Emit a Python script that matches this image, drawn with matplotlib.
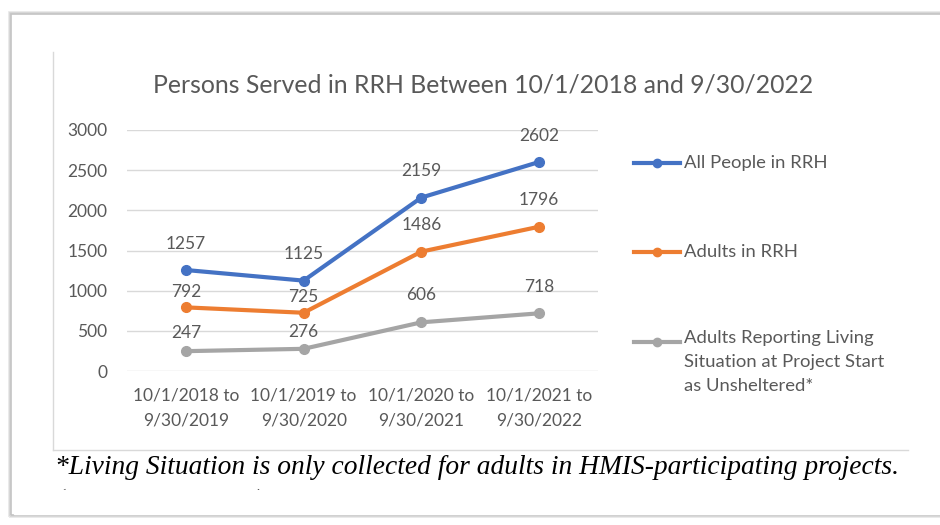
import matplotlib.pyplot as plt
from matplotlib.lines import Line2D
from matplotlib.patches import Rectangle

# --- Data ---
periods = ["10/1/2018 to\n9/30/2019", "10/1/2019 to\n9/30/2020",
           "10/1/2020 to\n9/30/2021", "10/1/2021 to\n9/30/2022"]
all_people = [1257, 1125, 2159, 2602]
adults = [792, 725, 1486, 1796]
unsheltered = [247, 276, 606, 718]
series_names = ["All People in RRH", "Adults in RRH",
                "Adults Reporting Living\nSituation at Project Start\nas Unsheltered*"]

title = "Persons Served in RRH Between 10/1/2018 and 9/30/2022"
footnote = "*Living Situation is only collected for adults in HMIS-participating projects."
footnote2 = "(Source: KYHMIS)"

# --- Style ---
colors = ["#4472C4", "#ED7D31", "#A5A5A5"]
txt_grey = "#595959"
font = "Lato"
W, H = 940, 525

def fx(px):
    return px / W

def fy(py):
    return 1 - py / H

fig = plt.figure(figsize=(9.4, 5.25), dpi=100)

# outer page frame with soft shadow
for i, c in enumerate(["#e6e6e6", "#d4d4d4", "#c4c4c4"]):
    fig.add_artist(Rectangle((fx(9 + i), fy(517 - i)), fx(960), fy(12 + i) - fy(517 - i),
                             transform=fig.transFigure, fill=False, ec=c, lw=1.2))

# inner chart border (left + bottom)
fig.add_artist(Line2D([fx(53), fx(53)], [fy(52), fy(450)], transform=fig.transFigure,
                      color="#d9d9d9", lw=1))
fig.add_artist(Line2D([fx(53), fx(908)], [fy(450), fy(450)], transform=fig.transFigure,
                      color="#d9d9d9", lw=1))

ax = fig.add_axes([fx(127), fy(371), fx(598) - fx(127), fy(130) - fy(371)])
x = list(range(len(periods)))

data = [all_people, adults, unsheltered]
# label offsets in points (some labels sit closer to their marker)
offsets = [[19, 19, 19, 19], [11, 11, 19, 19], [13, 12, 20, 19]]
for vals, col, offs in zip(data, colors, offsets):
    ax.plot(x, vals, color=col, lw=3, marker="o", ms=7, solid_capstyle="round")
    for xi, v, o in zip(x, vals, offs):
        ax.annotate(str(v), (xi, v), xytext=(0, o), textcoords="offset points",
                    ha="center", va="center", fontsize=12.5, color=txt_grey, family=font)

ax.set_xlim(-0.5, 3.5)
ax.set_ylim(0, 3000)
ax.set_yticks(range(0, 3001, 500))
ax.set_xticks(x)
ax.set_xticklabels(periods, fontsize=12.5, color=txt_grey, family=font, linespacing=1.65)
for lab in ax.get_yticklabels():
    lab.set_fontsize(12.5)
    lab.set_color(txt_grey)
    lab.set_family(font)
ax.tick_params(axis="both", length=0)
ax.tick_params(axis="y", pad=14)
ax.tick_params(axis="x", pad=12)
ax.grid(axis="y", color="#d9d9d9", lw=1)
ax.set_axisbelow(True)
for s in ax.spines.values():
    s.set_visible(False)

fig.text(fx(483), fy(85), title, ha="center", va="center", fontsize=17.8,
         color=txt_grey, family=font)

# legend, drawn by hand to keep Excel's wide spacing
leg_y = [163, 252, 342]
for name, col, ly in zip(series_names, colors, leg_y):
    fig.add_artist(Line2D([fx(634), fx(680)], [fy(ly), fy(ly)], transform=fig.transFigure,
                          color=col, lw=3))
    fig.add_artist(Line2D([fx(657)], [fy(ly)], transform=fig.transFigure, color=col,
                          marker="o", ms=6))
    fig.text(fx(684), fy(ly), name, ha="left", va="top" if "\n" in name else "center",
             fontsize=13.3, color=txt_grey, family=font, linespacing=1.6)
# nudge the multi-line entry so its first line lines up with the marker
fig.texts[-1].set_y(fy(leg_y[2] - 12))

# footnote (second line cut off as in the screenshot)
fig.text(fx(55), fy(467), footnote, ha="left", va="center", fontsize=19.8,
         style="italic", family="Liberation Serif", color="#000000")
fig.text(fx(55), fy(502), footnote2, ha="left", va="center", fontsize=19.8,
         style="italic", family="Liberation Serif", color="#000000")
fig.add_artist(Rectangle((fx(14), fy(514)), fx(930), fy(490) - fy(514),
                         transform=fig.transFigure, color="white", zorder=10))

plt.savefig("out.png", dpi=100)
